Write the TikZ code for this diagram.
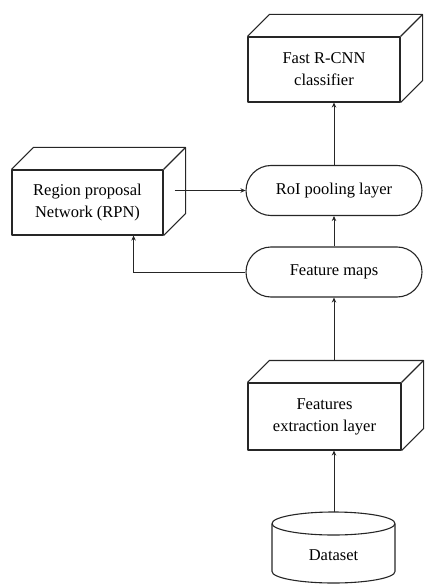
\documentclass[tikz,border=0pt]{standalone}
\usepackage{fontspec}
\setmainfont{Liberation Serif}
\usetikzlibrary{calc,arrows.meta,shapes.misc}
\tikzset{
  outline/.style={draw=black!85, line width=1.1pt, line join=round},
  cubefront/.style={outline, fill=white, align=center, inner sep=0pt, font=\fontsize{16.5}{22}\selectfont},
  stadium/.style={outline, rounded rectangle, align=center, inner sep=0pt, minimum width=176pt, minimum height=50pt, font=\fontsize{16.5}{22}\selectfont},
  conn/.style={draw=black!85, line width=1pt, -{Stealth[length=5pt,width=4.5pt]}}
}
\newcommand\cuboidfaces[1]{%
  \draw[outline] (#1.north west) -- ($(#1.north west)+(22,-22)$) -- ($(#1.north east)+(22,-22)$)
    -- ($(#1.south east)+(22,-22)$) -- (#1.south east);
  \draw[outline] (#1.north east) -- ($(#1.north east)+(22,-22)$);
}
\begin{document}
\begin{tikzpicture}[x=1pt,y=-1pt]
\useasboundingbox (0,0) rectangle (424,585);
% cuboid boxes
\node[cubefront, minimum width=152pt, minimum height=65pt] (frcnn) at (324,69.5) {Fast R-CNN\\classifier};
\cuboidfaces{frcnn}
\node[cubefront, minimum width=151pt, minimum height=65pt] (rpn) at (87.5,202.5) {Region proposal\\Network (RPN)};
\cuboidfaces{rpn}
\node[cubefront, minimum width=153pt, minimum height=67pt] (fe) at (324.5,416.5) {Features\\extraction layer};
\cuboidfaces{fe}
\coordinate (febk) at ($(fe.north)+(0,-22)$);
\coordinate (rpnside) at ($(rpn.east)+(11,-12)$);
% stadiums
\node[stadium] (roi) at (334,190.5) {RoI pooling layer};
\node[stadium] (fmaps) at (334,272) {Feature maps};
% dataset cylinder
\node[minimum width=123pt, minimum height=71pt, inner sep=0pt, font=\fontsize{16.5}{22}\selectfont, text depth=0pt] (ds) at (333.5,555) {Dataset};
\draw[outline] (333.5,523.5) ellipse [x radius=61.5, y radius=11.5];
\draw[outline] (272,523.5) -- (272,571.5) arc[start angle=180, end angle=360, x radius=61.5, y radius=-11.5] -- (395,523.5);
\coordinate (dstop) at (334,512);
% connectors
\draw[conn] (dstop) -- (dstop |- fe.south);
\draw[conn] (fmaps.south |- febk) -- (fmaps.south);
\draw[conn] (fmaps.north) -- (roi.south);
\draw[conn] (roi.north) -- (roi.north |- frcnn.south);
\draw[conn] (rpnside) -- (rpnside -| roi.west);
\draw[conn] (fmaps.west) -| ($(rpn.south east)+(-30,0)$);
\end{tikzpicture}
\end{document}
